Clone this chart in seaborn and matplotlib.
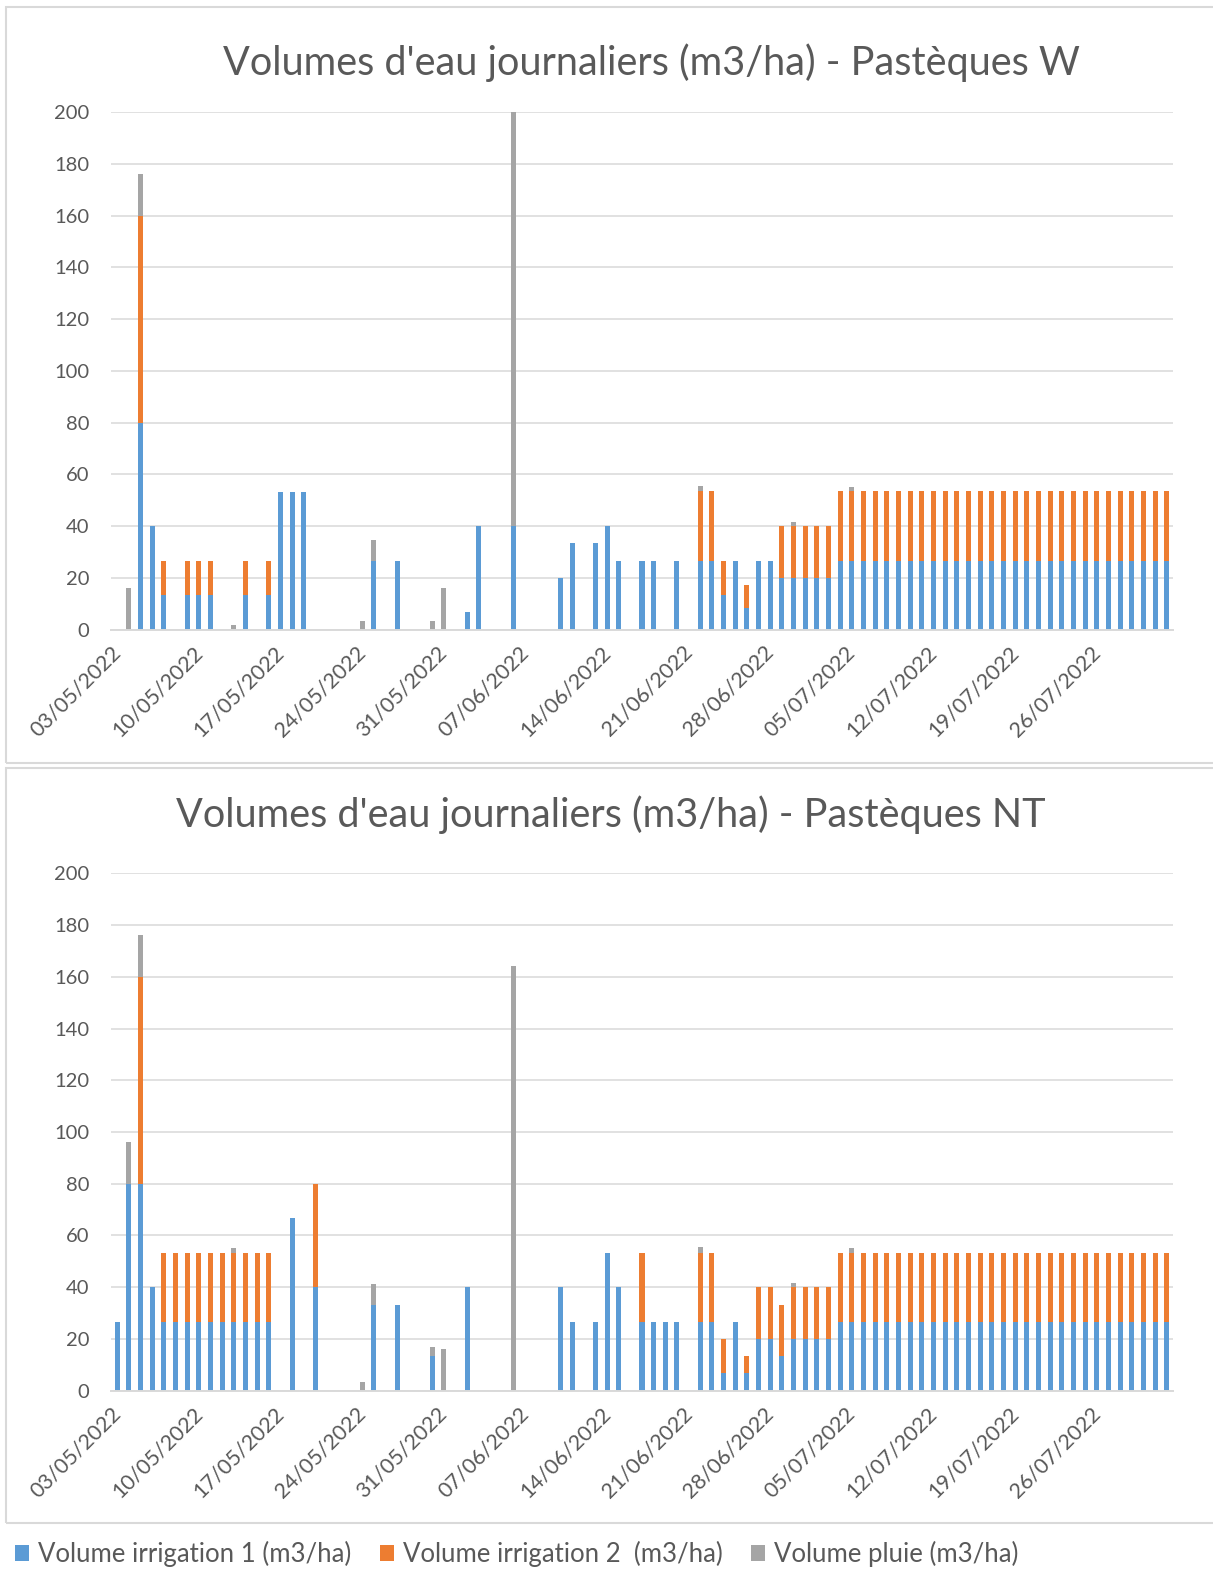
import numpy as np
import pandas as pd
import matplotlib
matplotlib.use("Agg")
import matplotlib.pyplot as plt
import matplotlib.patches as mpatches
import matplotlib.transforms as mtransforms
import seaborn as sns

# ---------------------------------------------------------------------------
# Daily water volumes (m3/ha), one value per day from 03/05/2022 to 01/08/2022
# ---------------------------------------------------------------------------
START_DATE = "2022-05-03"
N_DAYS = 91
DATES = pd.date_range(START_DATE, periods=N_DAYS, freq="D").strftime("%d/%m/%Y").tolist()

RAIN = [
    0, 16, 16, 0, 0, 0, 0,            # 03/05 - 09/05
    0, 0, 0, 1.7, 0, 0, 0,            # 10/05 - 16/05
    0, 0, 0, 0, 0, 0, 0,              # 17/05 - 23/05
    3.5, 7.8, 0, 0, 0, 0, 3.5,        # 24/05 - 30/05
    16, 0, 0, 0, 0, 0, 164,           # 31/05 - 06/06
    0, 0, 0, 0, 0, 0, 0,              # 07/06 - 13/06
    0, 0, 0, 0, 0, 0, 0,              # 14/06 - 20/06
    0, 2, 0, 0, 0, 0, 0,              # 21/06 - 27/06
    0, 0, 1.7, 0, 0, 0, 0,            # 28/06 - 04/07
    1.8, 0, 0, 0, 0, 0, 0,            # 05/07 - 11/07
    0, 0, 0, 0, 0, 0, 0,              # 12/07 - 18/07
    0, 0, 0, 0, 0, 0, 0,              # 19/07 - 25/07
    0, 0, 0, 0, 0, 0, 0,              # 26/07 - 01/08
]

W_IRRIGATION_1 = [
    0, 0, 80, 40, 13.3, 0, 13.3,
    13.3, 13.3, 0, 0, 13.3, 0, 13.3,
    53.3, 53.3, 53.3, 0, 0, 0, 0,
    0, 26.7, 0, 26.7, 0, 0, 0,
    0, 0, 6.7, 40, 0, 0, 40,
    0, 0, 0, 20, 33.3, 0, 33.3,
    40, 26.7, 0, 26.7, 26.7, 0, 26.7,
    0, 26.7, 26.7, 13.3, 26.7, 8.3, 26.7,
    26.7, 20, 20, 20, 20, 20, 26.7,
    26.7, 26.7, 26.7, 26.7, 26.7, 26.7, 26.7,
    26.7, 26.7, 26.7, 26.7, 26.7, 26.7, 26.7,
    26.7, 26.7, 26.7, 26.7, 26.7, 26.7, 26.7,
    26.7, 26.7, 26.7, 26.7, 26.7, 26.7, 26.7,
]

W_IRRIGATION_2 = [
    0, 0, 80, 0, 13.3, 0, 13.3,
    13.3, 13.3, 0, 0, 13.3, 0, 13.3,
    0, 0, 0, 0, 0, 0, 0,
    0, 0, 0, 0, 0, 0, 0,
    0, 0, 0, 0, 0, 0, 0,
    0, 0, 0, 0, 0, 0, 0,
    0, 0, 0, 0, 0, 0, 0,
    0, 26.7, 26.7, 13.3, 0, 9, 0,
    0, 20, 20, 20, 20, 20, 26.7,
    26.7, 26.7, 26.7, 26.7, 26.7, 26.7, 26.7,
    26.7, 26.7, 26.7, 26.7, 26.7, 26.7, 26.7,
    26.7, 26.7, 26.7, 26.7, 26.7, 26.7, 26.7,
    26.7, 26.7, 26.7, 26.7, 26.7, 26.7, 26.7,
]

NT_IRRIGATION_1 = [
    26.7, 80, 80, 40, 26.7, 26.7, 26.7,
    26.7, 26.7, 26.7, 26.7, 26.7, 26.7, 26.7,
    0, 66.7, 0, 40, 0, 0, 0,
    0, 33.3, 0, 33.3, 0, 0, 13.3,
    0, 0, 40, 0, 0, 0, 0,
    0, 0, 0, 40, 26.7, 0, 26.7,
    53.3, 40, 0, 26.7, 26.7, 26.7, 26.7,
    0, 26.7, 26.7, 6.7, 26.7, 6.7, 20,
    20, 13.3, 20, 20, 20, 20, 26.7,
    26.7, 26.7, 26.7, 26.7, 26.7, 26.7, 26.7,
    26.7, 26.7, 26.7, 26.7, 26.7, 26.7, 26.7,
    26.7, 26.7, 26.7, 26.7, 26.7, 26.7, 26.7,
    26.7, 26.7, 26.7, 26.7, 26.7, 26.7, 26.7,
]

NT_IRRIGATION_2 = [
    0, 0, 80, 0, 26.7, 26.7, 26.7,
    26.7, 26.7, 26.7, 26.7, 26.7, 26.7, 26.7,
    0, 0, 0, 40, 0, 0, 0,
    0, 0, 0, 0, 0, 0, 0,
    0, 0, 0, 0, 0, 0, 0,
    0, 0, 0, 0, 0, 0, 0,
    0, 0, 0, 26.7, 0, 0, 0,
    0, 26.7, 26.7, 13.3, 0, 6.7, 20,
    20, 20, 20, 20, 20, 20, 26.7,
    26.7, 26.7, 26.7, 26.7, 26.7, 26.7, 26.7,
    26.7, 26.7, 26.7, 26.7, 26.7, 26.7, 26.7,
    26.7, 26.7, 26.7, 26.7, 26.7, 26.7, 26.7,
    26.7, 26.7, 26.7, 26.7, 26.7, 26.7, 26.7,
]

TITLE_W = "Volumes d'eau journaliers (m3/ha) - Pastèques W"
TITLE_NT = "Volumes d'eau journaliers (m3/ha) - Pastèques NT"
LEGEND_LABELS = [
    "Volume irrigation 1 (m3/ha)",
    "Volume irrigation 2  (m3/ha)",
    "Volume pluie (m3/ha)",
]
Y_TICKS = [0, 20, 40, 60, 80, 100, 120, 140, 160, 180, 200]

# ---------------------------------------------------------------------------
# Style
# ---------------------------------------------------------------------------
BLUE = "#5B9BD5"
ORANGE = "#ED7D31"
GREY = "#A5A5A5"
TEXT = "#595959"
LINE = "#D9D9D9"
BAR_W = 0.43

sns.set_style("white")
plt.rcParams["font.family"] = ["Lato", "DejaVu Sans"]

W_PX, H_PX = 1213, 1571
fig = plt.figure(figsize=(W_PX / 100, H_PX / 100), dpi=100)


def fx(px):
    return px / W_PX


def fy(py):
    return 1 - py / H_PX


def draw_panel(ax, irr1, irr2, rain):
    df = pd.DataFrame({"date": DATES, "irr1": irr1, "irr2": irr2, "rain": rain})
    df["irr_total"] = df["irr1"] + df["irr2"]
    df["all_total"] = df["irr_total"] + df["rain"]
    # stacked look: draw cumulative totals from the top layer down
    for col, colour in (("all_total", GREY), ("irr_total", ORANGE), ("irr1", BLUE)):
        sns.barplot(data=df, x="date", y=col, order=DATES, color=colour,
                    saturation=1, width=BAR_W, errorbar=None, linewidth=0,
                    ax=ax)
    ax.set_xlabel("")
    ax.set_ylabel("")
    ax.set_ylim(0, 200)
    ax.set_xlim(-0.5, N_DAYS - 0.5)
    ax.set_yticks(Y_TICKS)
    ax.set_yticklabels([str(v) for v in Y_TICKS])
    ax.set_axisbelow(True)
    ax.yaxis.grid(True, color=LINE, linewidth=1.1)
    ax.xaxis.grid(False)
    for side in ("left", "right", "top"):
        ax.spines[side].set_visible(False)
    ax.spines["bottom"].set_color(LINE)
    ax.spines["bottom"].set_linewidth(1.4)

    week_pos = np.arange(-0.5, N_DAYS, 7)
    week_lab = [DATES[int(p + 0.5)] if p + 0.5 < N_DAYS - 6 else "" for p in week_pos]
    ax.set_xticks(week_pos)
    ax.set_xticklabels(week_lab)
    ax.tick_params(axis="x", direction="out", length=5, width=1.4, color=LINE,
                   pad=9, labelsize=15.5, labelcolor=TEXT)
    ax.tick_params(axis="y", length=0, pad=16, labelsize=14.5, labelcolor=TEXT)
    shift = mtransforms.ScaledTranslation(6 / 100, 0, fig.dpi_scale_trans)
    for lab in ax.get_xticklabels():
        lab.set_rotation(45)
        lab.set_ha("right")
        lab.set_va("center")
        lab.set_rotation_mode("anchor")
        lab.set_transform(lab.get_transform() + shift)


ax_top = fig.add_axes([fx(111.5), fy(629.6), fx(1172.5 - 111.5), (629.6 - 112.3) / H_PX])
ax_bot = fig.add_axes([fx(111.5), fy(1390.7), fx(1172.5 - 111.5), (1390.7 - 873.3) / H_PX])

draw_panel(ax_top, W_IRRIGATION_1, W_IRRIGATION_2, RAIN)
draw_panel(ax_bot, NT_IRRIGATION_1, NT_IRRIGATION_2, RAIN)

# chart-area frames
for top_px, bottom_px in ((7, 763), (768, 1523)):
    fig.patches.append(mpatches.Rectangle(
        (fx(6), fy(bottom_px)), 1.2, (bottom_px - top_px) / H_PX,
        transform=fig.transFigure, fill=False, edgecolor=LINE, linewidth=1.5))

fig.text(fx(651), fy(63), TITLE_W, ha="center", va="center",
         fontsize=28.5, color=TEXT)
fig.text(fx(611), fy(815), TITLE_NT, ha="center", va="center",
         fontsize=28.5, color=TEXT)

handles = [ax_top.containers[2], ax_top.containers[1], ax_top.containers[0]]
fig.legend(handles, LEGEND_LABELS, loc="center left",
           bbox_to_anchor=(fx(15), fy(1554)), ncol=3, frameon=False,
           fontsize=18.5, labelcolor=TEXT, handlelength=0.55, handleheight=0.55,
           handletextpad=0.35, columnspacing=1.1, borderpad=0, borderaxespad=0)

fig.savefig("out.png", dpi=100)
